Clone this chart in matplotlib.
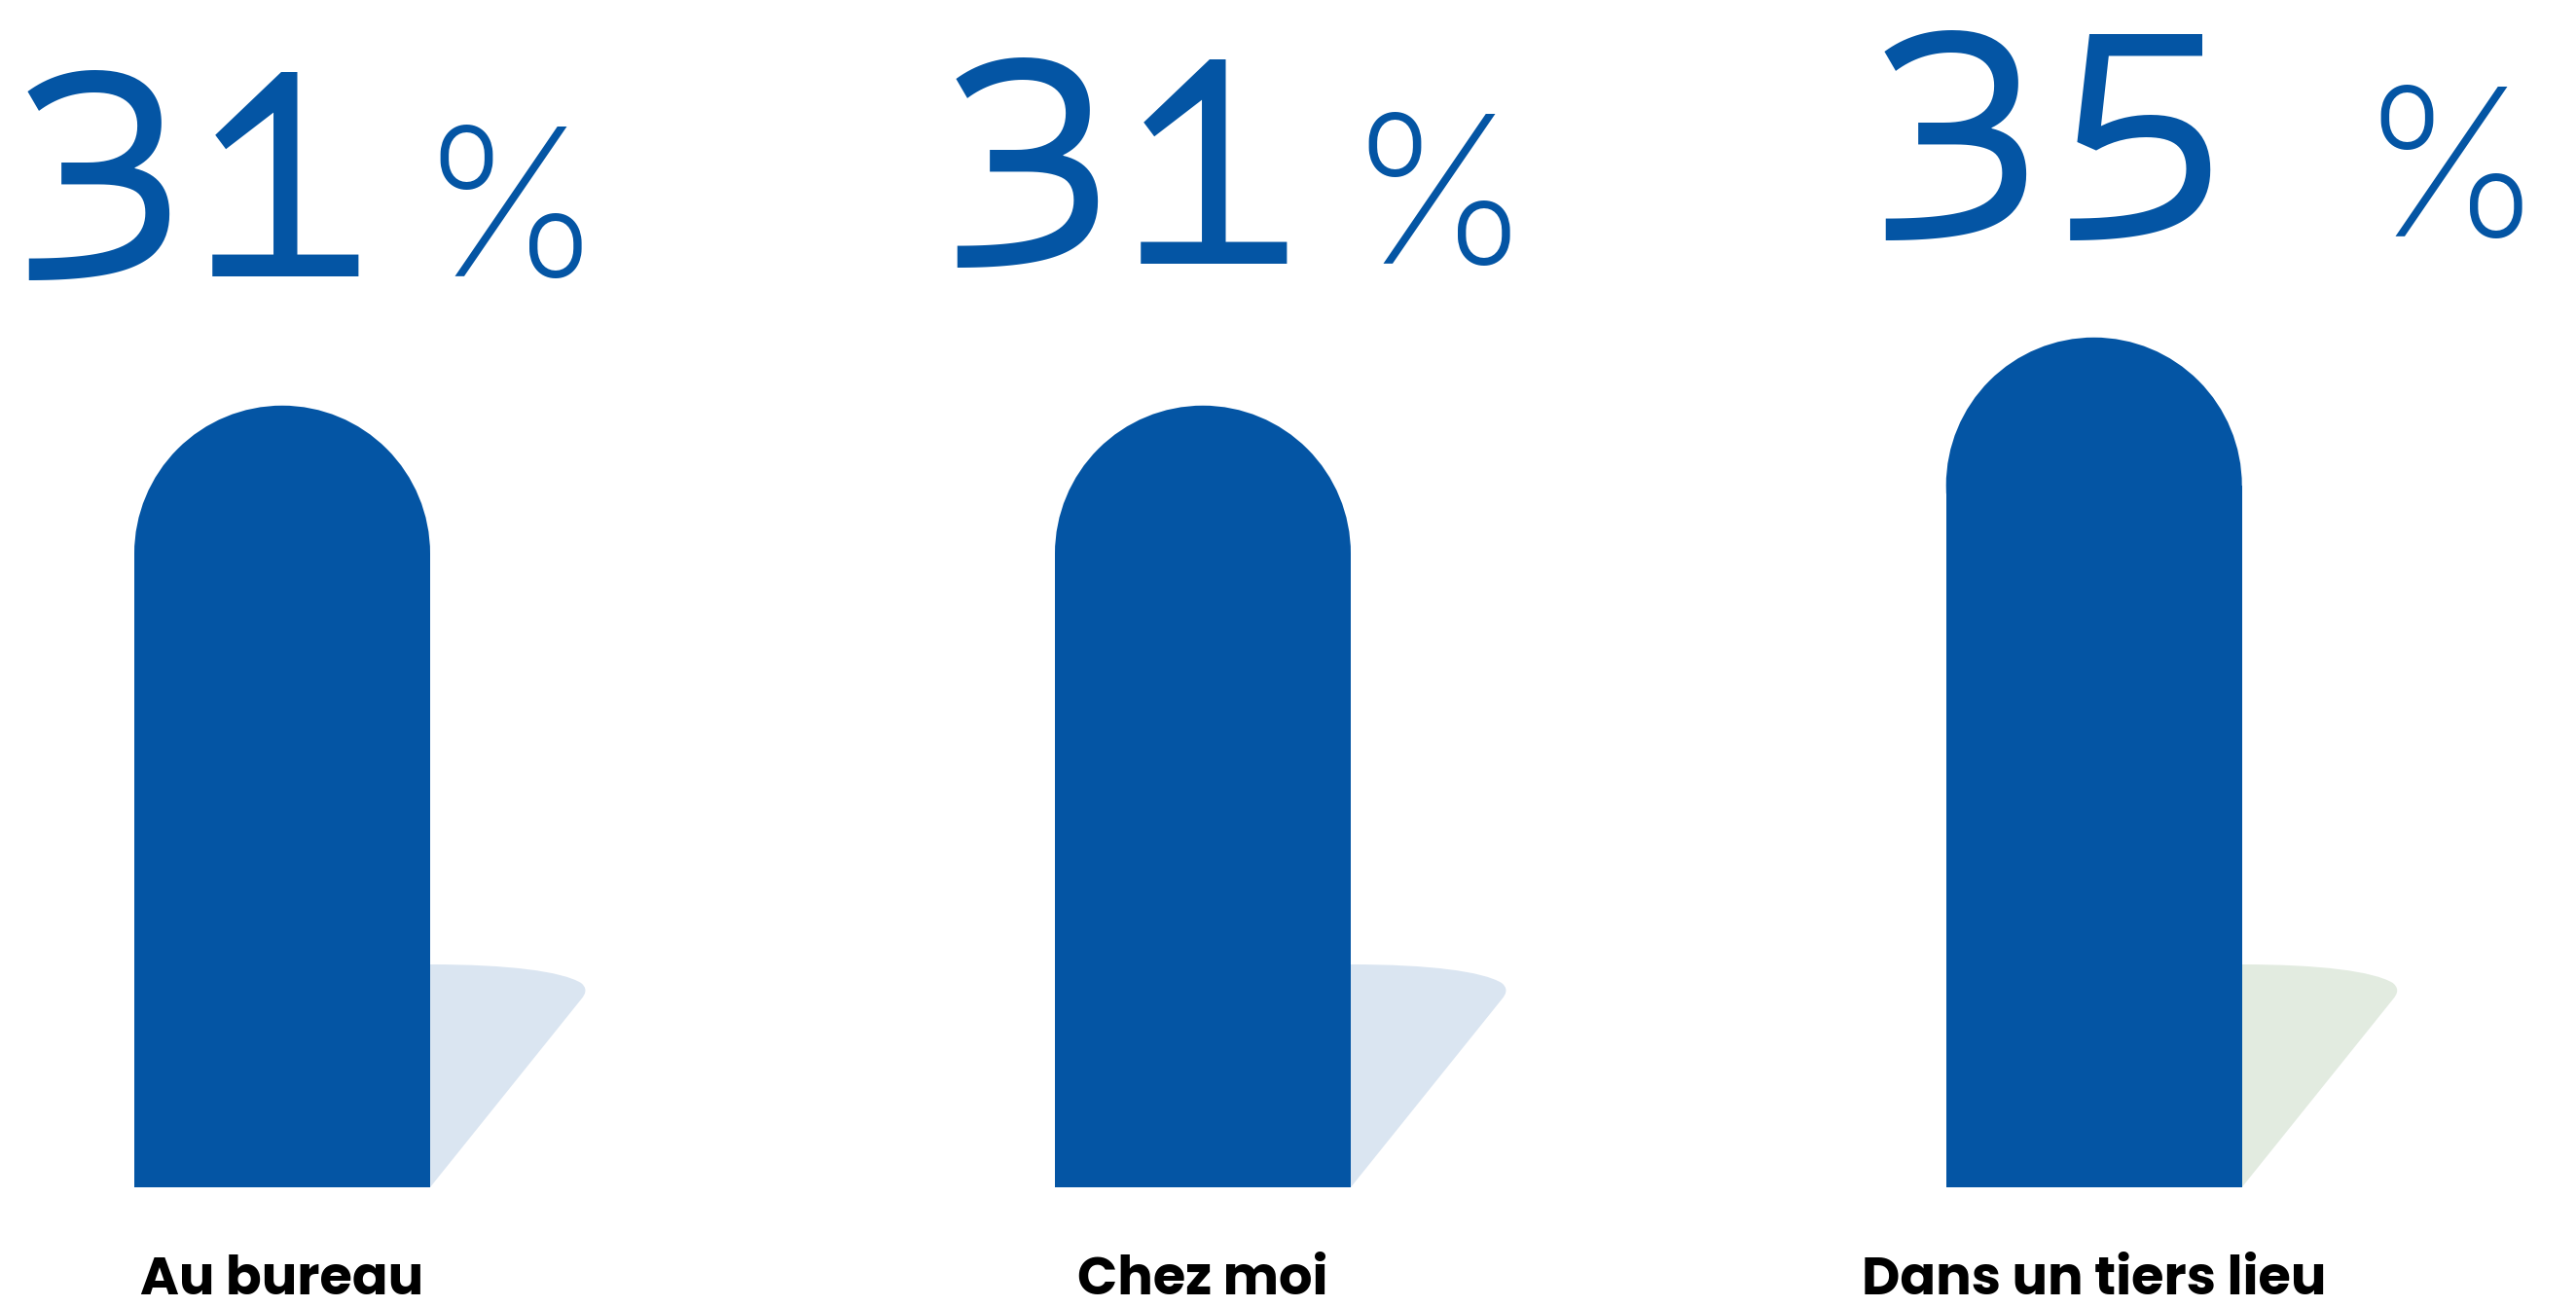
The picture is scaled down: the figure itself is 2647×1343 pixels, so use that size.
import matplotlib.pyplot as plt
from matplotlib.patches import Ellipse, PathPatch
from matplotlib.path import Path

categories = ['Au bureau', 'Chez moi', 'Dans un tiers lieu']
values = [31, 31, 35]
shadow_colors = ['#dae5f1', '#dae5f1', '#e2ebe0']

BLUE = '#0455a4'

# layout, in pixels of the 2647x1343 output
W_PX, H_PX = 2647, 1343
FLOOR_PX = 1220          # bar bottoms, measured from the top edge
PX_PER_X = 946.0
PX_PER_Y = 17.5
Y_FLOOR = -14.9
x_pos = [0, 1, 1.968]
bar_w = 304 / PX_PER_X
r_y = 152 / PX_PER_Y
num_dx_px = [-132, -124, -86]    # number anchor, from bar left edge
pct_dx_px = [292, 300, 425]      # percent sign anchor, from bar left edge
num_dy_px = [133, 146, 104]      # baseline above the bar top
LABEL_DY_PX = -110
PT = 72 / 100  # points per pixel

fig = plt.figure(figsize=(W_PX / 100, H_PX / 100), dpi=100)
ax = fig.add_axes([0, (H_PX - FLOOR_PX) / H_PX, 1, FLOOR_PX / H_PX])
ax.set_xlim(-290 / PX_PER_X, (W_PX - 290) / PX_PER_X)
ax.set_ylim(Y_FLOOR, Y_FLOOR + FLOOR_PX / PX_PER_Y)
ax.axis('off')

# straight part of the bars, the rounded caps go on top
ax.bar(
    x_pos,
    [v - r_y - Y_FLOOR for v in values],
    bottom=Y_FLOOR,
    width=bar_w,
    color=BLUE,
    linewidth=0,
    zorder=3,
)

# shadow outline in pixel offsets from the bar's bottom-right corner
shadow_px = [(0, 0), (0, 229), (80, 229), (135, 222), (155, 210),
             (164, 203), (155, 193), (0, 0)]
shadow_codes = [Path.MOVETO, Path.LINETO, Path.CURVE4, Path.CURVE4,
                Path.CURVE4, Path.CURVE3, Path.CURVE3, Path.CLOSEPOLY]

for x, v, sc in zip(x_pos, values, shadow_colors):
    ax.add_patch(Ellipse((x, v - r_y), bar_w, 2 * r_y,
                         color=BLUE, linewidth=0, zorder=3))
    xr = x + bar_w / 2
    verts = [(xr + dx / PX_PER_X, Y_FLOOR + dy / PX_PER_Y) for dx, dy in shadow_px]
    ax.add_patch(PathPatch(Path(verts, shadow_codes), facecolor=sc,
                           edgecolor='none', zorder=2))

for x, cat in zip(x_pos, categories):
    ax.annotate(
        cat,
        xy=(x, Y_FLOOR),
        xytext=(0, LABEL_DY_PX * PT),
        textcoords='offset points',
        ha='center',
        va='baseline',
        fontsize=39,
        fontweight='bold',
        family=['Poppins', 'Lato', 'DejaVu Sans'],
        color='black',
        annotation_clip=False,
    )

for i, (x, v) in enumerate(zip(x_pos, values)):
    left = x - bar_w / 2
    ax.annotate(
        str(v),
        xy=(left, v),
        xytext=(num_dx_px[i] * PT, num_dy_px[i] * PT),
        textcoords='offset points',
        ha='left',
        va='baseline',
        fontsize=238,
        family=['Sometype Mono', 'DejaVu Sans Mono'],
        color=BLUE,
        annotation_clip=False,
    )
    ax.annotate(
        '%',
        xy=(left, v),
        xytext=(pct_dx_px[i] * PT, num_dy_px[i] * PT),
        textcoords='offset points',
        ha='left',
        va='baseline',
        fontsize=152,
        fontweight='light',
        family=['Inter', 'Roboto', 'DejaVu Sans'],
        color=BLUE,
        annotation_clip=False,
    )

fig.savefig('out.png', dpi=100, facecolor='white')
